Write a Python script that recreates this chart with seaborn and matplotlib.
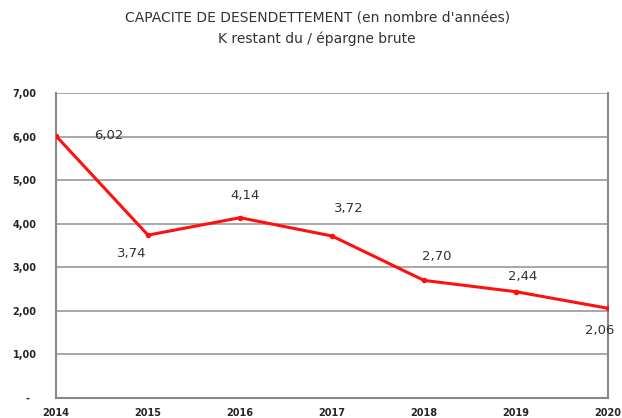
import matplotlib.pyplot as plt
import seaborn as sns
import pandas as pd

years = [2014, 2015, 2016, 2017, 2018, 2019, 2020]
ratio = [6.02, 3.74, 4.14, 3.72, 2.70, 2.44, 2.06]
y_ticks = [0, 1, 2, 3, 4, 5, 6, 7]
y_tick_labels = ['-  ', '1,00', '2,00', '3,00', '4,00', '5,00', '6,00', '7,00']
# label offsets in points (dx, dy)
label_offsets = [(38, 0), (-12, -13), (4, 16), (12, 20), (9, 17), (5, 11), (-6, -16)]

df = pd.DataFrame({'annee': years, 'ratio': ratio})

sns.set_style('white')
plt.rcParams['font.family'] = ['DejaVu Sans']

fig = plt.figure(figsize=(6.22, 4.18), dpi=100)
ax = fig.add_axes([0.09, 0.048, 0.8875, 0.729])

sns.lineplot(data=df, x='annee', y='ratio', ax=ax, color='#ff1010', linewidth=2.2,
             marker='o', markersize=4, markeredgewidth=0, zorder=3)

for x, y, (dx, dy) in zip(years, ratio, label_offsets):
    ax.annotate(f'{y:.2f}'.replace('.', ','), (x, y), xytext=(dx, dy),
                textcoords='offset points', ha='center', va='center',
                fontsize=9.5, color='#333333')

ax.set_xlim(2014, 2020)
ax.set_ylim(0, 7)
ax.set_xticks(years)
ax.set_xticklabels([str(y) for y in years], fontsize=7, fontweight='bold')
ax.set_yticks(y_ticks)
ax.set_yticklabels(y_tick_labels, fontsize=7, fontweight='bold')
ax.yaxis.grid(True, color='#a0a0a0', linewidth=1.3)
ax.tick_params(axis='both', length=3, color='#888888', direction='out')
ax.tick_params(axis='y', pad=11)
ax.tick_params(axis='x', pad=4)
ax.set_xlabel('')
ax.set_ylabel('')
for side in ['left', 'bottom', 'right']:
    ax.spines[side].set_color('#888888')
    ax.spines[side].set_linewidth(1.5)
ax.spines['top'].set_visible(False)

fig.text(0.51, 0.955, "CAPACITE DE DESENDETTEMENT (en nombre d'années)",
         ha='center', va='center', fontsize=10, color='#333333')
fig.text(0.51, 0.908, 'K restant du / épargne brute',
         ha='center', va='center', fontsize=10, color='#333333')

fig.savefig('out.png', dpi=100)
